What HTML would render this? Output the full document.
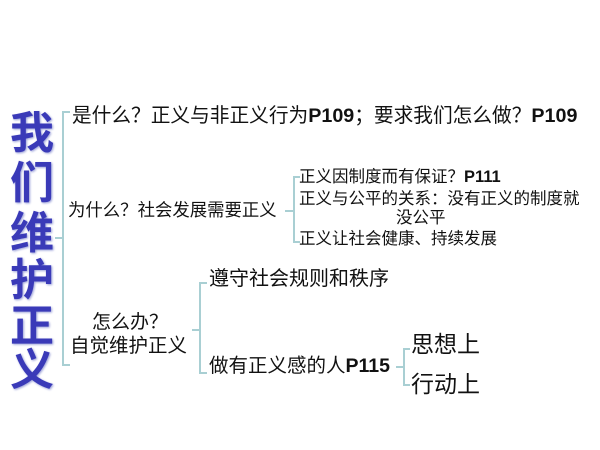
<!DOCTYPE html>
<html><head><meta charset="utf-8"><style>
body{margin:0;width:600px;height:450px;background:#fff;overflow:hidden;position:relative;font-family:"Liberation Sans","Noto Sans CJK SC",sans-serif;color:#111}
.t{position:absolute;white-space:nowrap;line-height:1}
.big{position:absolute;left:10px;font-size:44px;font-weight:bold;color:#3a3ab8;text-shadow:1px 1px 2px #9aa0d8;line-height:1}
b{font-family:"Liberation Sans",sans-serif}
svg{position:absolute;left:0;top:0}
</style></head><body>
<svg width="600" height="450"><g stroke="#a9cfd3" stroke-width="2" fill="none">
<path d="M70 112 H63 V365 H70 M63 238 H55"/>
<path d="M300 177 H294 V242 H300 M294 211 H285"/>
<path d="M207 283 H200 V373 H207 M200 330 H192"/>
<path d="M410 349 H404 V385 H410 M404 367 H396"/>
</g></svg>
<div class="big" style="top:112px">我</div>
<div class="big" style="top:162px">们</div>
<div class="big" style="top:212px">维</div>
<div class="big" style="top:259px">护</div>
<div class="big" style="top:305px">正</div>
<div class="big" style="top:349px">义</div>
<div class="t" style="left:72px;top:107px;font-size:19.7px">是什么？正义与非正义行为<b>P109</b>；要求我们怎么做？<b>P109</b></div>
<div class="t" style="left:68px;top:202px;font-size:17.4px">为什么？社会发展需要正义</div>
<div class="t" style="left:299px;top:169px;font-size:16.5px">正义因制度而有保证？<b>P111</b></div>
<div class="t" style="left:299px;top:191px;font-size:16.5px">正义与公平的关系：没有正义的制度就</div>
<div class="t" style="left:396px;top:210px;font-size:16.5px">没公平</div>
<div class="t" style="left:299px;top:231px;font-size:16.5px">正义让社会健康、持续发展</div>
<div class="t" style="left:92px;top:313px;font-size:19px">怎么办？</div>
<div class="t" style="left:70px;top:337px;font-size:19.5px">自觉维护正义</div>
<div class="t" style="left:209px;top:269px;font-size:20px">遵守社会规则和秩序</div>
<div class="t" style="left:209px;top:357px;font-size:19.5px">做有正义感的人<b>P115</b></div>
<div class="t" style="left:411px;top:333px;font-size:23px">思想上</div>
<div class="t" style="left:411px;top:373px;font-size:23px">行动上</div>
</body></html>
